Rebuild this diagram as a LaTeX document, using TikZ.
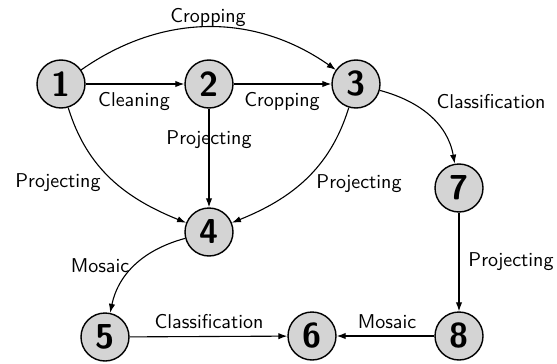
\documentclass[tikz,border=0pt]{standalone}
\usetikzlibrary{arrows.meta}
\begin{document}
\begin{tikzpicture}[x=0.5pt,y=-0.5pt,
  state/.style={circle,draw,line width=0.7pt,fill=black!17,minimum size=24pt,inner sep=0pt,font=\sffamily\bfseries\LARGE},
  edge/.style={line width=0.55pt,-{Latex[length=4.5pt,width=3.2pt]}},
  lbl/.style={font=\sffamily,inner sep=1pt}]
\useasboundingbox (0,0) rectangle (557,364);
\node[state] (n1) at (61,84) {1};
\node[state] (n2) at (209,84) {2};
\node[state] (n3) at (356,84) {3};
\node[state] (n4) at (209,232) {4};
\node[state] (n5) at (105,337) {5};
\node[state] (n6) at (312,336) {6};
\node[state] (n7) at (459,188) {7};
\node[state] (n8) at (459,336) {8};

\draw[edge] (n1) to[bend left=35] (n3);
\node[lbl] (l13) at (208,18) {Cropping};
\draw[edge] (n1) -- (n2);
\node[lbl] (l12) at (134,101) {Cleaning};
\draw[edge] (n2) -- (n3);
\node[lbl] (l23) at (282,101) {Cropping};
\draw[edge] (n2) -- (n4);
\node[lbl] (l24) at (209,140) {Projecting};
\draw[edge] (n1) to[out=-73,in=158] (n4);
\node[lbl] (l14) at (58,183) {Projecting};
\draw[edge] (n3) to[out=-107,in=22] (n4);
\node[lbl] (l34) at (359,184) {Projecting};
\draw[edge] (n3) to[out=-15,in=100] (n7);
\node[lbl] (l37) at (491,102) {Classification};
\draw[edge] (n7) -- (n8);
\node[lbl] (l78) at (511,262) {Projecting};
\draw[edge] (n8) -- (n6);
\node[lbl] (l86) at (387,322) {Mosaic};
\draw[edge] (n5) -- (n6);
\node[lbl] (l56) at (209,322) {Classification};
\draw[edge] (n4) to[out=195,in=78] (n5);
\node[lbl] (l45) at (100,266) {Mosaic};
\end{tikzpicture}
\end{document}
